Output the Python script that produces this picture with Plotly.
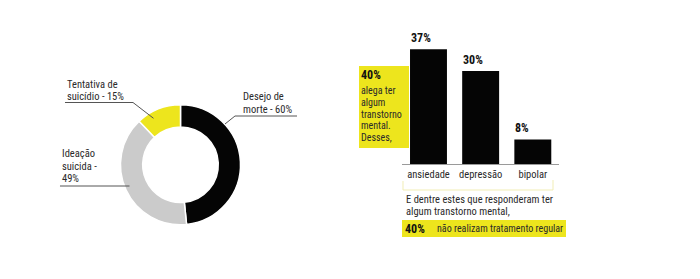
import plotly.graph_objects as go

W, H = 700, 279

# ---------------- data ----------------
donut_labels = ["Desejo de morte", "Ideação suicida", "Tentativa de suicídio"]
donut_values = [60, 49, 15]
donut_colors = ["#050505", "#cbcbcb", "#ede51d"]

bar_categories = ["ansiedade", "depressão", "bipolar"]
bar_values = [37, 30, 8]

mental_pct = 40
no_treatment_pct = 40

FONT = "Roboto Condensed, Liberation Sans Narrow, Arial Narrow, sans-serif"
TXT = "#2a2a2a"
YEL = "#ede51d"
FS = 10.5


def fx(x):
    return x / W


def fy(y):
    return 1 - y / H


fig = go.Figure()

# donut
cx, cy, R = 180.5, 164.7, 60
fig.add_trace(go.Pie(
    labels=donut_labels, values=donut_values, sort=False, direction="clockwise",
    rotation=0, hole=0.63, textinfo="none", showlegend=False,
    marker=dict(colors=donut_colors, line=dict(color="white", width=1.5)),
    domain=dict(x=[fx(cx - R), fx(cx + R)], y=[fy(cy + R), fy(cy - R)]),
))

# bars
fig.add_trace(go.Bar(
    x=bar_categories, y=bar_values, marker=dict(color="#050505", line=dict(width=0)),
    showlegend=False, xaxis="x", yaxis="y",
))

ann = []
shapes = []


def text(x, y, s, size=FS, bold=False, color=TXT):
    ann.append(dict(x=fx(x), y=fy(y), xref="paper", yref="paper", xanchor="left",
                    yanchor="middle", showarrow=False, borderpad=0,
                    text=("<b>%s</b>" % s) if bold else s,
                    font=dict(family=FONT, size=size, color=color)))


def line(points, color="#555555", width=1):
    path = "M " + " L ".join("%f,%f" % (fx(a), fy(b)) for a, b in points)
    shapes.append(dict(type="path", path=path, xref="paper", yref="paper",
                       line=dict(color=color, width=width), layer="above"))


# donut labels
text(66, 84.5, "Tentativa de")
text(66, 96.8, "suicídio - %d%%" % donut_values[2])
line([(65, 102.5), (133, 102.5), (153.5, 118.3)])

text(242, 96.5, "Desejo de")
text(242, 109.5, "morte - %d%%" % donut_values[0])
line([(225, 124), (235, 116), (297, 116)])

text(61, 153.5, "Ideação")
text(61, 166, "suicida -")
text(61, 178.5, "%d%%" % donut_values[1])
line([(60, 186), (129.5, 186)])

# bar value labels
half_bar_px = 18.5
for c, v in zip(bar_categories, bar_values):
    ann.append(dict(x=c, y=v, xref="x", yref="y", xanchor="left", yanchor="bottom",
                    xshift=-half_bar_px, yshift=3, showarrow=False, borderpad=0,
                    text="<b>%d%%</b>" % v, font=dict(family=FONT, size=12, color="#111111")))

# yellow box on the left of bars
shapes.append(dict(type="rect", xref="paper", yref="paper", x0=fx(359), x1=fx(409),
                   y0=fy(148), y1=fy(66), fillcolor=YEL, line=dict(width=0), layer="below"))
text(360, 74.5, "%d%%" % mental_pct, size=12, bold=True, color="#111111")
for yy, s in zip([90.5, 102.3, 114.1, 125.9, 137.7],
                 ["alega ter", "algum", "transtorno", "mental.", "Desses,"]):
    text(360, yy, s, size=10)

# faint bracket under categories
line([(403, 181), (403, 190), (553, 190), (553, 180)], color="#f1edb5", width=1)

# bottom text
text(405, 199, "E dentre estes que responderam ter")
text(405, 211.5, "algum transtorno mental,")
shapes.append(dict(type="rect", xref="paper", yref="paper", x0=fx(402), x1=fx(566),
                   y0=fy(237), y1=fy(220), fillcolor=YEL, line=dict(width=0), layer="below"))
text(404, 228.5, "%d%%" % no_treatment_pct, size=12, bold=True, color="#111111")
text(436, 228.5, "não realizam tratamento regular", size=10)

base_y = 164.3
px_per_unit = 3.11
fig.update_layout(
    width=W, height=H, margin=dict(l=0, r=0, t=0, b=0),
    paper_bgcolor="white", plot_bgcolor="rgba(0,0,0,0)",
    bargap=0.292,
    xaxis=dict(domain=[fx(402.4), fx(558.9)], range=[-0.5, 2.5], type="category",
               showline=True, linecolor="#9a9a9a", linewidth=1, ticks="", tickangle=0,
               showgrid=False, zeroline=False, fixedrange=True,
               tickfont=dict(family=FONT, size=FS, color=TXT)),
    yaxis=dict(domain=[fy(base_y), fy(base_y - 40 * px_per_unit)], range=[0, 40],
               visible=False, fixedrange=True),
    annotations=ann, shapes=shapes,
)

fig.write_html("out.html")
